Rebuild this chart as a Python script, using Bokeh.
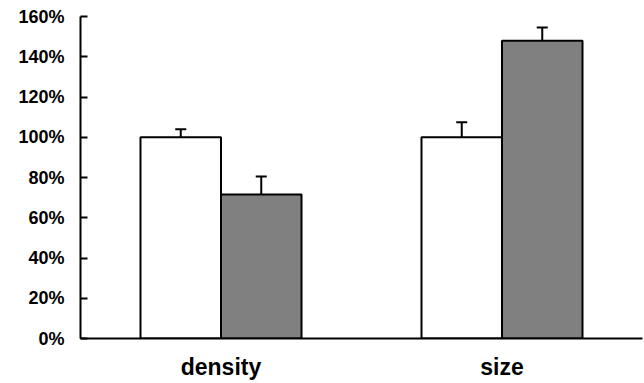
from bokeh.plotting import figure
from bokeh.models import ColumnDataSource, Range1d, FixedTicker, PrintfTickFormatter, Whisker, TeeHead
from bokeh.transform import dodge
from bokeh.embed import file_html
from bokeh.resources import INLINE

categories = ["density", "size"]
control = [100, 100]
control_err = [104, 107.5]
treated = [71.5, 148]
treated_err = [80.5, 154.5]
y_ticks = [0, 20, 40, 60, 80, 100, 120, 140, 160]

xs = [i + 0.5 for i in range(len(categories))]
src = ColumnDataSource(dict(x=xs, control=control, control_err=control_err,
                            treated=treated, treated_err=treated_err))

p = figure(width=644, height=383, output_backend="svg", toolbar_location=None,
           x_range=Range1d(0, 2), y_range=Range1d(0, 160),
           min_border_left=80, min_border_right=2, min_border_top=16, min_border_bottom=45)

bw = 0.2865
off = bw / 2
p.vbar(x=dodge("x", -off, range=p.x_range), top="control", width=bw, source=src,
       fill_color="white", line_color="black", line_width=2)
p.vbar(x=dodge("x", off, range=p.x_range), top="treated", width=bw, source=src,
       fill_color="#808080", line_color="black", line_width=2)

for top, err, d in (("control", "control_err", -off), ("treated", "treated_err", off)):
    w = Whisker(base=dodge("x", d, range=p.x_range), lower=top, upper=err, source=src,
                line_color="black", line_width=2, lower_head=None,
                upper_head=TeeHead(size=11, line_color="black", line_width=2))
    p.add_layout(w)

p.outline_line_color = None
p.xgrid.grid_line_color = None
p.ygrid.grid_line_color = None

p.yaxis.ticker = FixedTicker(ticks=y_ticks)
p.yaxis.formatter = PrintfTickFormatter(format="%d%%")
p.yaxis.axis_line_width = 2
p.yaxis.major_tick_line_width = 2
p.yaxis.major_tick_in = 7
p.yaxis.major_tick_out = 0
p.yaxis.minor_tick_line_color = None
p.yaxis.major_label_standoff = 16
p.yaxis.major_label_text_font = "Liberation Sans"
p.yaxis.major_label_text_font_style = "bold"
p.yaxis.major_label_text_font_size = "18px"
p.yaxis.major_label_text_color = "black"

p.xaxis.ticker = FixedTicker(ticks=xs)
p.xaxis.major_label_overrides = {x: c for x, c in zip(xs, categories)}
p.xaxis.axis_line_width = 2
p.xaxis.major_tick_line_color = None
p.xaxis.minor_tick_line_color = None
p.xaxis.major_label_standoff = 9
p.xaxis.major_label_text_font = "Liberation Sans"
p.xaxis.major_label_text_font_style = "bold"
p.xaxis.major_label_text_font_size = "23px"
p.xaxis.major_label_text_color = "black"

open("out.html", "w").write(file_html(p, INLINE))
